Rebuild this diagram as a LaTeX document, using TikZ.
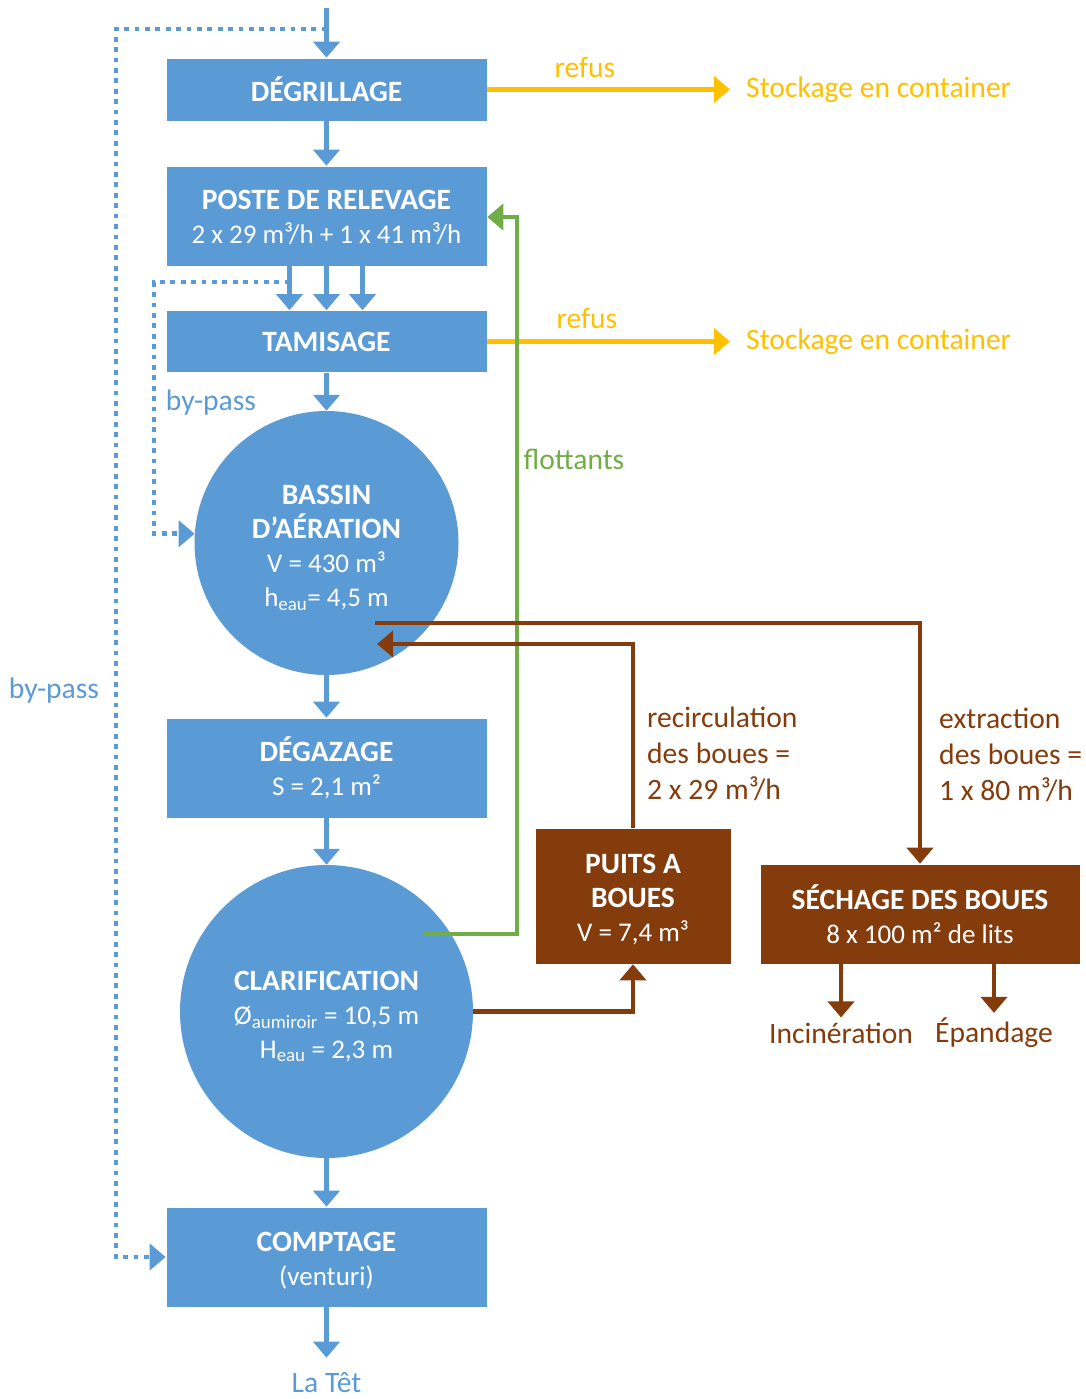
\documentclass[tikz,border=0pt]{standalone}
\usepackage{fontspec}
\setmainfont{Carlito}
\usetikzlibrary{arrows.meta,calc}
\definecolor{eauBleu}{HTML}{5B9BD5}
\definecolor{boueBrun}{HTML}{843C0C}
\definecolor{refusJaune}{HTML}{FFC000}
\definecolor{flotVert}{HTML}{70AD47}
% bold heading inside a block, with an optional strut to lower the text block
\newcommand\titreBloc[1]{{\fontsize{29.5}{34}\selectfont\bfseries #1}}
\newcommand\haussTete[1]{\rule{0pt}{#1}}

\begin{document}
\begin{tikzpicture}[x=1pt,y=-1pt,
  txt/.style={font=\fontsize{27}{34}\selectfont},
  lbl/.style={font=\fontsize{29.6}{36}\selectfont, inner sep=2pt},
  bluebox/.style={rectangle, fill=eauBleu, text=white, draw=white, line width=0.6pt,
    align=center, minimum width=321pt, inner sep=0pt, txt},
  bluedisc/.style={circle, fill=eauBleu, text=white, align=center, inner sep=0pt, txt},
  brownbox/.style={rectangle, fill=boueBrun, text=white, draw=white, line width=0.6pt,
    align=center, inner sep=0pt, txt},
  tipA/.style={-{Triangle[width=26pt,length=16pt]}},
  bflow/.style={draw=eauBleu, line width=5pt, tipA},
  bypass/.style={draw=eauBleu, line width=4.8pt, dash pattern=on 4.8pt off 5.6pt, tipA},
  oflow/.style={draw=refusJaune, line width=4.5pt, tipA},
  gflow/.style={draw=flotVert, line width=4pt, tipA},
  brflow/.style={draw=boueBrun, line width=4.5pt, tipA},
]
\path[use as bounding box] (0,0) rectangle (1085,1399);

% main water line
\node[bluebox, minimum height=63pt] (degr) at (326.5,89.5) {\titreBloc{DÉGRILLAGE}};
\node[bluebox, minimum height=100pt] (poste) at (326.5,216) {\haussTete{23pt}\titreBloc{POSTE DE RELEVAGE}\\2 x 29 m³/h + 1 x 41 m³/h};
\node[bluebox, minimum height=62pt] (tamis) at (326.5,341.5) {\titreBloc{TAMISAGE}};
\node[bluedisc, minimum size=264pt] (bassin) at (326.5,543) {\haussTete{29pt}\titreBloc{BASSIN}\\\titreBloc{D’AÉRATION}\\V = 430 m³\\h\textsubscript{eau}= 4,5 m};
\node[bluebox, minimum height=100pt] (degaz) at (326.5,768) {\titreBloc{DÉGAZAGE}\\S = 2,1 m²};
\node[bluedisc, minimum size=293pt] (clar) at (326.5,1011.5) {\haussTete{29pt}\titreBloc{CLARIFICATION}\\Ø\textsubscript{aumiroir} = 10,5 m\\H\textsubscript{eau} = 2,3 m};
\node[bluebox, minimum height=100pt] (compt) at (326.5,1257) {\haussTete{27pt}\titreBloc{COMPTAGE}\\(venturi)};
\node[lbl, text=eauBleu, inner ysep=15pt] (latet) at (326.5,1383) {La Têt};

% sludge line
\node[brownbox, minimum width=196pt, minimum height=136pt] (puits) at (633,896) {\haussTete{26pt}\titreBloc{PUITS A}\\\titreBloc{BOUES}\\V = 7,4 m³};
\node[brownbox, minimum width=320pt, minimum height=100pt] (sech) at (920,914) {\titreBloc{SÉCHAGE DES BOUES}\\8 x 100 m² de lits};
\node[lbl, text=boueBrun, inner ysep=5pt] (inc) at (841,1033) {Incinération};
\node[lbl, text=boueBrun, inner ysep=5pt] (epa) at (994,1033) {Épandage};
\node[lbl, text=boueBrun, align=left, anchor=west] (recirc) at (645,754) {recirculation\\des boues =\\2 x 29 m³/h};
\node[lbl, text=boueBrun, align=left, anchor=west] (extr) at (937,755) {extraction\\des boues =\\1 x 80 m³/h};

% screenings
\node[lbl, text=refusJaune, anchor=west, inner xsep=16pt, inner ysep=0pt] (stock1) at (730,89.5) {Stockage en container};
\node[lbl, text=refusJaune, anchor=west, inner xsep=16pt, inner ysep=0pt] (stock2) at (730,341.5) {Stockage en container};
\node[lbl, text=refusJaune] (refus1) at (585,67) {refus};
\node[lbl, text=refusJaune] (refus2) at (587,318) {refus};

% other labels
\node[lbl, text=flotVert] (flott) at (574,459) {flottants};
\node[lbl, text=eauBleu] (bpLab1) at (211,403) {by-pass};
\node[lbl, text=eauBleu] (bpLab2) at (54,691) {by-pass};

% by-pass lines
\coordinate (inlet) at (326.5,8);
\coordinate (bpA) at (326.5,29);
\coordinate (bpA1) at (116,29);
\coordinate (bpB) at (289.5,282);
\coordinate (bpB1) at (154,282);
\draw[bypass] (bpA) -- (bpA1) |- (compt.west);
\draw[bypass] (bpB) -- (bpB1) |- (bassin.176);

% water flow arrows
\draw[bflow] (inlet) -- (degr.north);
\draw[bflow] (degr) -- (poste);
\foreach \dx in {-37,0,36}
  \draw[bflow] ([xshift=\dx pt]poste.south) -- ([xshift=\dx pt]tamis.north);
\draw[bflow] (tamis) -- (bassin);
\draw[bflow] (bassin) -- (degaz);
\draw[bflow] (degaz) -- (clar);
\draw[bflow] (clar) -- (compt);
\draw[bflow] (compt.south) -- (latet.north);

% screenings arrows
\draw[oflow] (degr.east) -- (stock1.west);
\draw[oflow] (tamis.east) -- (stock2.west);

% floating matter return
\coordinate (flA) at (424,934);
\coordinate (flB) at (517,217);
\draw[gflow] (flA) -| (flB) -- (poste.east |- flB);

% sludge arrows
\coordinate (exA) at (375,623);
\coordinate (rcB) at (377,644);
\draw[brflow] (exA) -| (sech.north);
\draw[brflow] (puits.north) |- (rcB);
\draw[brflow] (clar.east) -| (puits.south);
\draw[brflow] (sech.south -| inc) -- (inc);
\draw[brflow] (sech.south -| epa) -- (epa);
\end{tikzpicture}
\end{document}
